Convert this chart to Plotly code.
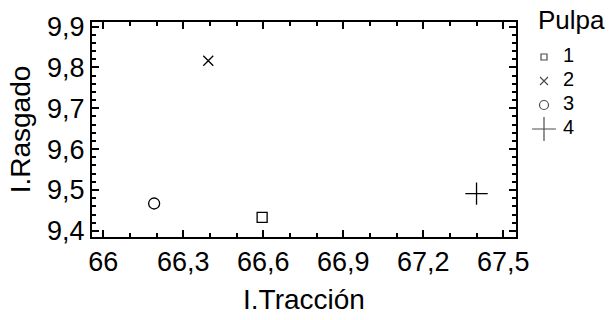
import plotly.graph_objects as go

pulpa = ["1", "2", "3", "4"]
traccion = [66.596, 66.394, 66.191, 67.40]
rasgado = [9.433, 9.816, 9.467, 9.491]
symbols = ["square-open", "x-thin-open", "circle-open", "cross-thin-open"]
sizes = [10, 10, 11, 16]
legend_sizes = [6, 8, 9, 17]
legend_title = "Pulpa"

FONT = "Liberation Sans, Arial, sans-serif"

fig = go.Figure()
for p, x, y, s, sz in zip(pulpa, traccion, rasgado, symbols, sizes):
    fig.add_trace(go.Scatter(
        x=[x], y=[y], mode="markers", name=p, showlegend=False,
        marker=dict(symbol=s, size=sz, color="black",
                    line=dict(color="black", width=1.3)),
    ))

# Legend drawn as a small keyed panel on its own hidden axes
rows = list(range(1, len(pulpa) + 1))
fig.add_trace(go.Scatter(
    x=[18] * len(pulpa), y=rows, mode="markers", xaxis="x2", yaxis="y2",
    showlegend=False, hoverinfo="skip",
    marker=dict(symbol=symbols, size=legend_sizes, color="black",
                line=dict(color="black", width=1.2)),
))
fig.add_trace(go.Scatter(
    x=[37] * len(pulpa), y=rows, mode="text", text=pulpa, xaxis="x2", yaxis="y2",
    textposition="middle right", showlegend=False, hoverinfo="skip",
    textfont=dict(family=FONT, size=20, color="black"),
))
fig.add_trace(go.Scatter(
    x=[12], y=[-0.42], mode="text", text=[legend_title], xaxis="x2", yaxis="y2",
    textposition="middle right", showlegend=False, hoverinfo="skip",
    textfont=dict(family=FONT, size=26, color="black"),
))

axis_common = dict(
    showline=True, linecolor="black", linewidth=2, mirror="ticks",
    ticks="inside", ticklen=7, tickwidth=1.5, tickcolor="black",
    showgrid=False, zeroline=False, automargin=False,
    tickfont=dict(family=FONT, size=27, color="black"),
)

fig.update_layout(
    width=612, height=320,
    margin=dict(l=0, r=0, t=0, b=0, autoexpand=False),
    paper_bgcolor="white", plot_bgcolor="white",
    separators=", ",
    font=dict(family=FONT, color="black"),
    xaxis=dict(
        axis_common, domain=[92 / 612, 516 / 612],
        range=[65.958, 67.548], tick0=66, dtick=0.3,
        minor=dict(dtick=0.1, ticks="inside", ticklen=4, tickwidth=1.5, tickcolor="black"),
        title=dict(text="I.Tracción", font=dict(family=FONT, size=28), standoff=13),
    ),
    yaxis=dict(
        axis_common, domain=[83 / 320, 298 / 320],
        range=[9.385, 9.911], tick0=9.4, dtick=0.1,
        tickformat=".1f",
        minor=dict(dtick=0.02, ticks="inside", ticklen=4, tickwidth=1.5, tickcolor="black"),
        title=dict(text="I.Rasgado", font=dict(family=FONT, size=28), standoff=8),
    ),
    xaxis2=dict(domain=[526 / 612, 1], range=[0, 86], visible=False, fixedrange=True),
    yaxis2=dict(domain=[0, 1], range=[11.958, -1.375], visible=False, fixedrange=True),
    showlegend=False,
)

fig.write_html("out.html", config={"displayModeBar": False},
               post_script="document.body.style.margin='0';")
